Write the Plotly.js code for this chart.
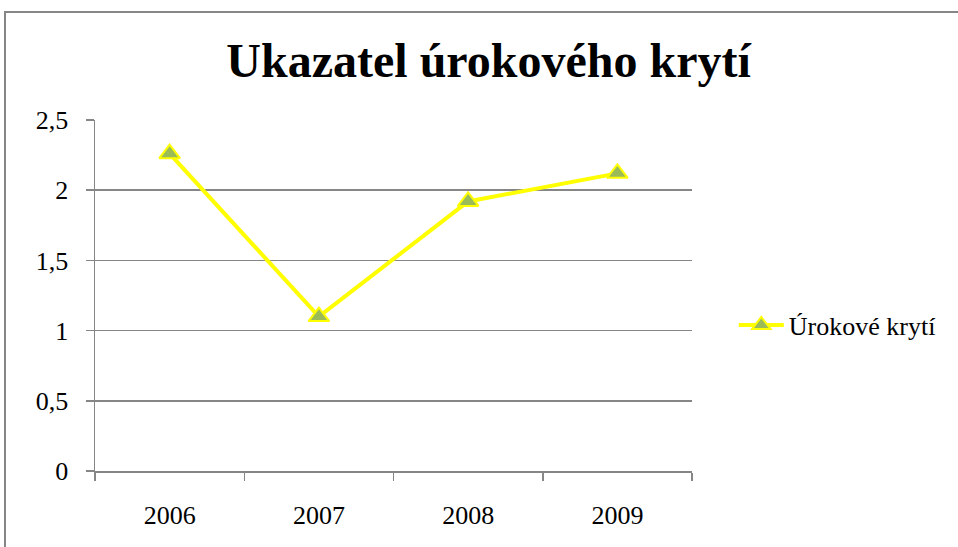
<!DOCTYPE html>
<html><head><meta charset="utf-8">
<script src="https://cdn.plot.ly/plotly-3.0.1.min.js"></script>
<style>
body{margin:0;background:#fff;}
#wrap{position:relative;width:958px;height:547px;overflow:hidden;}
#frame{position:absolute;left:4px;top:11px;width:980px;height:560px;border:2px solid #868686;pointer-events:none;}
</style></head>
<body><div id="wrap"><div id="chart" style="width:958px;height:547px;"></div><div id="frame"></div></div>
<script>
const years = ['2006','2007','2008','2009'];
const coverage = [2.26, 1.1, 1.92, 2.12];
const seriesName = 'Úrokové krytí';
const chartTitle = 'Ukazatel úrokového krytí';
const yTicks = [0, 0.5, 1, 1.5, 2, 2.5];

const trace = {
  x: years, y: coverage, name: seriesName, type: 'scatter', mode: 'lines+markers',
  line: {color: '#FFFF00', width: 4},
  marker: {symbol: 'triangle-up', size: 18, color: '#9BBB59', line: {color: '#FFFF00', width: 2}}
};
const font = {family: '"Liberation Serif", "Times New Roman", serif', color: '#000', size: 26};
const layout = {
  width: 958, height: 547,
  margin: {l: 95, r: 266, t: 120, b: 76},
  separators: ', ',
  paper_bgcolor: '#fff', plot_bgcolor: '#fff',
  font: font,
  showlegend: true,
  title: {text: '<b>' + chartTitle + '</b>', font: {family: font.family, size: 48, color: '#000'},
          x: 0.51, xref: 'container', xanchor: 'center', y: 0.89, yref: 'container', yanchor: 'middle'},
  xaxis: {type: 'category', range: [-0.5, 3.5], showgrid: false, showline: true, linecolor: '#868686', linewidth: 1.5,
          ticks: 'outside', tickson: 'boundaries', ticklen: 8, tickcolor: '#868686', tickwidth: 1.5,
          ticklabelstandoff: 20, tickfont: font, fixedrange: true},
  yaxis: {range: [0, 2.5], tickvals: yTicks, showgrid: true, gridcolor: '#868686', gridwidth: 1.5,
          showline: true, linecolor: '#868686', linewidth: 1.5, zeroline: false,
          ticks: 'outside', ticklen: 8, tickcolor: '#868686', tickwidth: 1.5,
          ticklabelstandoff: 12, tickfont: font, fixedrange: true},
  legend: {x: 1.07, y: 0.416, xanchor: 'left', yanchor: 'middle', font: font, bgcolor: 'rgba(0,0,0,0)', itemwidth: 45}
};
Plotly.newPlot('chart', [trace], layout, {displayModeBar: false, staticPlot: true});
</script></body></html>
